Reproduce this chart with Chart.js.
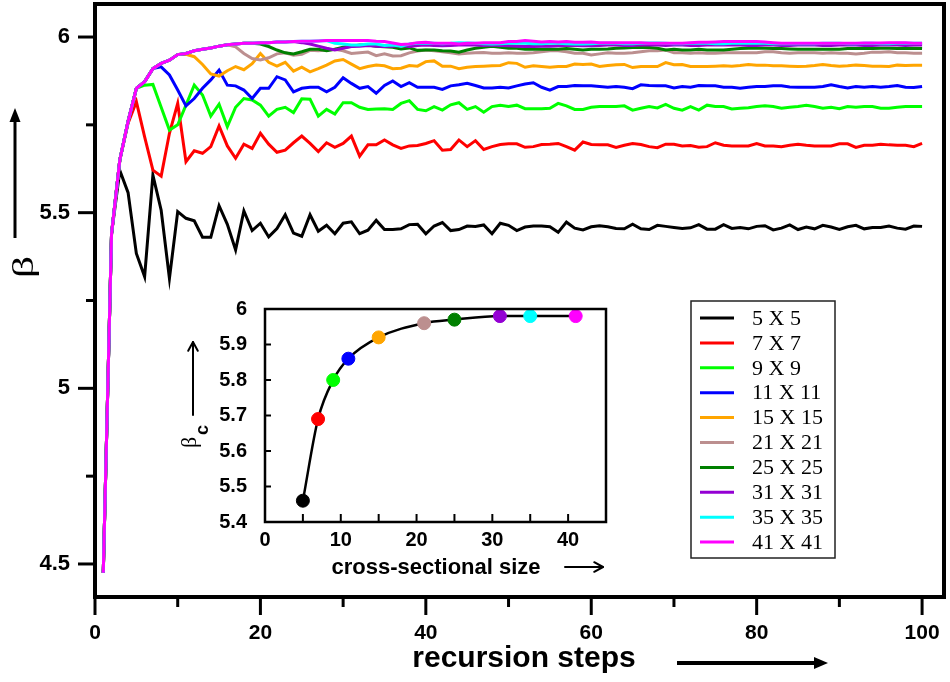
<!DOCTYPE html>
<html>
<head>
<meta charset="utf-8">
<script src="https://cdn.jsdelivr.net/npm/chart.js@4.4.1/dist/chart.umd.min.js"></script>
<style>
  html, body { margin: 0; padding: 0; background: #fff; }
  #wrap { position: relative; width: 950px; height: 682px; }
  #main { position: absolute; left: 0; top: 0; }
  #inset { position: absolute; left: 160px; top: 290px; }
</style>
</head>
<body>
<div id="wrap">
  <canvas id="main" width="950" height="682"></canvas>
  <canvas id="inset" width="460" height="300"></canvas>
</div>
<script>
// ---------------- DATA ----------------
const steps = [1,2,3,4,5,6,7,8,9,10,11,12,13,14,15,16,17,18,19,20,21,22,23,24,25,26,27,28,29,30,31,32,33,34,35,36,37,38,39,40,41,42,43,44,45,46,47,48,49,50,51,52,53,54,55,56,57,58,59,60,61,62,63,64,65,66,67,68,69,70,71,72,73,74,75,76,77,78,79,80,81,82,83,84,85,86,87,88,89,90,91,92,93,94,95,96,97,98,99,100];

const seriesLabels = ['5 X 5','7 X 7','9 X 9','11 X 11','15 X 15','21 X 21','25 X 25','31 X 31','35 X 35','41 X 41'];
const seriesColors = ['#000000','#ff0000','#00ff00','#0000ff','#ffa500','#bc8f8f','#008000','#9400d3','#00ffff','#ff00ff'];

const beta5 = [4.475,5.44,5.62,5.557,5.384,5.318,5.607,5.507,5.313,5.503,
5.484,5.477,5.43,5.43,5.52,5.467,5.394,5.505,5.449,5.470,
5.431,5.455,5.494,5.442,5.433,5.494,5.447,5.464,5.440,5.470,
5.474,5.440,5.450,5.478,5.452,5.452,5.454,5.466,5.467,5.440,
5.462,5.472,5.449,5.452,5.462,5.461,5.465,5.440,5.470,5.464,
5.449,5.459,5.462,5.462,5.460,5.444,5.473,5.456,5.451,5.460,
5.463,5.460,5.455,5.454,5.467,5.454,5.452,5.464,5.461,5.458,
5.455,5.457,5.466,5.453,5.453,5.466,5.455,5.458,5.454,5.461,
5.463,5.451,5.456,5.465,5.452,5.459,5.454,5.464,5.459,5.452,
5.460,5.464,5.454,5.458,5.458,5.462,5.456,5.453,5.462,5.461];

const beta7 = [4.475,5.44,5.65,5.755,5.816,5.716,5.621,5.604,5.726,5.811,
5.645,5.676,5.669,5.688,5.747,5.690,5.655,5.695,5.683,5.726,
5.695,5.672,5.678,5.699,5.718,5.697,5.674,5.699,5.686,5.697,
5.718,5.661,5.693,5.693,5.707,5.693,5.683,5.690,5.691,5.697,
5.705,5.678,5.680,5.707,5.688,5.705,5.680,5.688,5.694,5.696,
5.696,5.686,5.688,5.694,5.695,5.697,5.688,5.678,5.701,5.694,
5.693,5.693,5.686,5.692,5.697,5.694,5.688,5.685,5.695,5.695,
5.690,5.691,5.686,5.688,5.699,5.692,5.690,5.690,5.690,5.697,
5.690,5.690,5.688,5.692,5.695,5.692,5.690,5.690,5.690,5.696,
5.696,5.686,5.692,5.692,5.695,5.693,5.692,5.692,5.688,5.697];

const beta9 = [4.475,5.44,5.65,5.76,5.854,5.863,5.865,5.80,5.735,5.75,
5.806,5.863,5.835,5.775,5.809,5.745,5.800,5.825,5.821,5.806,
5.775,5.794,5.800,5.785,5.824,5.823,5.775,5.794,5.781,5.813,
5.813,5.800,5.794,5.795,5.796,5.794,5.811,5.819,5.794,5.790,
5.802,5.792,5.807,5.813,5.794,5.802,5.786,5.802,5.806,5.802,
5.806,5.796,5.796,5.796,5.797,5.811,5.804,5.794,5.794,5.800,
5.802,5.802,5.802,5.804,5.792,5.797,5.802,5.798,5.808,5.797,
5.792,5.802,5.792,5.806,5.802,5.802,5.795,5.797,5.799,5.802,
5.804,5.802,5.797,5.800,5.802,5.806,5.802,5.797,5.800,5.796,
5.802,5.800,5.802,5.802,5.797,5.797,5.800,5.802,5.802,5.802];

const beta11 = [4.475,5.44,5.65,5.76,5.854,5.873,5.91,5.915,5.892,5.849,
5.804,5.825,5.854,5.878,5.906,5.863,5.861,5.849,5.825,5.854,
5.854,5.887,5.878,5.844,5.854,5.857,5.857,5.844,5.857,5.884,
5.868,5.854,5.859,5.840,5.862,5.875,5.859,5.870,5.857,5.857,
5.857,5.851,5.861,5.864,5.868,5.862,5.855,5.855,5.857,5.855,
5.861,5.866,5.870,5.857,5.849,5.859,5.859,5.862,5.861,5.861,
5.859,5.857,5.859,5.857,5.853,5.864,5.862,5.861,5.861,5.855,
5.859,5.857,5.862,5.861,5.861,5.857,5.857,5.854,5.857,5.859,
5.859,5.861,5.861,5.858,5.857,5.857,5.857,5.859,5.864,5.859,
5.855,5.859,5.857,5.859,5.857,5.859,5.862,5.857,5.856,5.859];

const beta15 = [4.475,5.44,5.65,5.76,5.854,5.873,5.91,5.925,5.934,5.95,
5.951,5.944,5.922,5.895,5.889,5.904,5.916,5.907,5.924,5.953,
5.928,5.917,5.928,5.903,5.914,5.901,5.910,5.920,5.932,5.936,
5.923,5.910,5.916,5.920,5.918,5.910,5.911,5.919,5.917,5.930,
5.932,5.917,5.917,5.910,5.914,5.916,5.917,5.918,5.919,5.927,
5.925,5.914,5.918,5.916,5.914,5.916,5.916,5.923,5.922,5.923,
5.916,5.919,5.921,5.922,5.913,5.916,5.916,5.916,5.927,5.921,
5.922,5.916,5.916,5.916,5.917,5.918,5.917,5.919,5.922,5.920,
5.920,5.918,5.918,5.917,5.916,5.917,5.919,5.922,5.919,5.917,
5.918,5.920,5.919,5.917,5.917,5.916,5.920,5.919,5.920,5.920];

const beta21 = [4.475,5.44,5.65,5.76,5.854,5.873,5.91,5.925,5.934,5.95,
5.953,5.961,5.965,5.969,5.974,5.978,5.972,5.953,5.939,5.935,
5.941,5.952,5.955,5.948,5.951,5.962,5.961,5.963,5.965,5.961,
5.953,5.955,5.957,5.947,5.952,5.946,5.947,5.955,5.960,5.963,
5.961,5.958,5.955,5.952,5.954,5.955,5.956,5.954,5.954,5.955,
5.954,5.954,5.955,5.958,5.961,5.961,5.958,5.954,5.954,5.949,
5.952,5.955,5.954,5.954,5.955,5.958,5.961,5.961,5.963,5.955,
5.955,5.954,5.955,5.954,5.954,5.955,5.955,5.955,5.955,5.955,
5.958,5.958,5.955,5.954,5.955,5.955,5.955,5.954,5.955,5.954,
5.954,5.952,5.954,5.957,5.957,5.958,5.955,5.955,5.954,5.954];

const beta25 = [4.475,5.44,5.65,5.76,5.854,5.873,5.91,5.925,5.934,5.95,
5.953,5.961,5.965,5.969,5.974,5.978,5.980,5.982,5.982,5.980,
5.973,5.963,5.955,5.952,5.958,5.965,5.965,5.961,5.965,5.971,
5.974,5.977,5.977,5.974,5.972,5.971,5.966,5.969,5.962,5.963,
5.963,5.961,5.960,5.957,5.963,5.968,5.971,5.974,5.971,5.968,
5.968,5.965,5.965,5.965,5.965,5.965,5.967,5.965,5.963,5.965,
5.965,5.966,5.968,5.969,5.970,5.970,5.970,5.968,5.963,5.965,
5.963,5.963,5.965,5.963,5.963,5.963,5.965,5.967,5.968,5.968,
5.968,5.967,5.967,5.966,5.965,5.965,5.965,5.965,5.965,5.965,
5.967,5.967,5.967,5.967,5.968,5.968,5.967,5.967,5.968,5.967];

const beta31 = [4.475,5.44,5.65,5.76,5.854,5.873,5.91,5.925,5.934,5.95,
5.953,5.961,5.965,5.969,5.974,5.978,5.980,5.982,5.982,5.984,
5.984,5.986,5.986,5.987,5.984,5.980,5.974,5.968,5.963,5.968,
5.973,5.974,5.976,5.974,5.973,5.974,5.976,5.973,5.976,5.977,
5.976,5.975,5.976,5.977,5.978,5.977,5.976,5.977,5.976,5.975,
5.974,5.973,5.973,5.974,5.974,5.975,5.976,5.976,5.975,5.975,
5.976,5.977,5.977,5.976,5.976,5.977,5.978,5.977,5.976,5.977,
5.977,5.976,5.976,5.977,5.977,5.978,5.977,5.977,5.976,5.976,
5.977,5.977,5.976,5.976,5.977,5.977,5.977,5.976,5.976,5.977,
5.977,5.977,5.976,5.976,5.977,5.977,5.977,5.976,5.977,5.977];

const beta35 = [4.475,5.44,5.65,5.76,5.854,5.873,5.91,5.925,5.934,5.95,
5.953,5.961,5.965,5.969,5.974,5.978,5.980,5.982,5.982,5.984,
5.984,5.986,5.986,5.987,5.988,5.988,5.989,5.990,5.982,5.980,
5.977,5.977,5.980,5.980,5.976,5.977,5.974,5.980,5.982,5.983,
5.982,5.981,5.982,5.984,5.983,5.982,5.981,5.980,5.981,5.982,
5.983,5.982,5.981,5.981,5.982,5.982,5.981,5.980,5.980,5.981,
5.982,5.982,5.982,5.981,5.981,5.982,5.983,5.983,5.982,5.981,
5.981,5.982,5.982,5.982,5.981,5.981,5.982,5.982,5.982,5.982,
5.982,5.981,5.981,5.981,5.981,5.981,5.981,5.982,5.982,5.982,
5.981,5.981,5.982,5.982,5.981,5.981,5.982,5.982,5.982,5.982];

const beta41 = [4.475,5.44,5.65,5.76,5.854,5.873,5.91,5.925,5.934,5.95,
5.953,5.961,5.965,5.969,5.974,5.978,5.980,5.982,5.982,5.984,
5.984,5.986,5.986,5.987,5.988,5.988,5.989,5.990,5.990,5.990,
5.990,5.990,5.990,5.988,5.987,5.983,5.979,5.980,5.984,5.985,
5.982,5.982,5.982,5.980,5.982,5.982,5.984,5.984,5.984,5.987,
5.987,5.990,5.988,5.986,5.987,5.986,5.987,5.985,5.985,5.986,
5.984,5.984,5.984,5.984,5.984,5.984,5.982,5.982,5.982,5.982,
5.982,5.984,5.985,5.985,5.986,5.987,5.987,5.987,5.987,5.987,
5.986,5.984,5.982,5.982,5.982,5.982,5.982,5.982,5.982,5.982,
5.982,5.982,5.983,5.983,5.983,5.984,5.984,5.984,5.982,5.982];

const allSeries = [beta5, beta7, beta9, beta11, beta15, beta21, beta25, beta31, beta35, beta41];

// main-axis ticks
const xMajorTicks = [0, 20, 40, 60, 80, 100];
const xMinorTicks = [10, 30, 50, 70, 90];
const yMajorTicks = [4.5, 5, 5.5, 6];
const yMinorTicks = [4.75, 5.25, 5.75];

// inset data
const insetSizes = [5, 7, 9, 11, 15, 21, 25, 31, 35, 41];
const insetBetaC = [5.46, 5.69, 5.80, 5.86, 5.92, 5.96, 5.97, 5.98, 5.98, 5.98];
const insetXLabels = [0, 10, 20, 30, 40];
const insetXMarks = [5, 10, 15, 20, 25, 30, 35, 40];
const insetYLabels = [5.4, 5.5, 5.6, 5.7, 5.8, 5.9, 6];
const insetYMarks = [5.5, 5.6, 5.7, 5.8, 5.9];

// ---------------- helpers ----------------
const SANS = '"Liberation Sans", Arial, Helvetica, sans-serif';
const SERIF = '"Liberation Serif", "Times New Roman", serif';
const fmt = v => String(+Number(v).toFixed(2));

function seg(ctx, x1, y1, x2, y2) { ctx.beginPath(); ctx.moveTo(x1, y1); ctx.lineTo(x2, y2); ctx.stroke(); }

function filledArrow(ctx, x1, y1, x2, y2, w, headLen, headW) {
  const ang = Math.atan2(y2 - y1, x2 - x1);
  const bx = x2 - headLen * Math.cos(ang), by = y2 - headLen * Math.sin(ang);
  ctx.lineWidth = w; ctx.lineCap = 'butt';
  seg(ctx, x1, y1, bx, by);
  ctx.beginPath();
  ctx.moveTo(x2, y2);
  ctx.lineTo(bx + headW / 2 * Math.sin(ang), by - headW / 2 * Math.cos(ang));
  ctx.lineTo(bx - headW / 2 * Math.sin(ang), by + headW / 2 * Math.cos(ang));
  ctx.closePath(); ctx.fill();
}
function openArrow(ctx, x1, y1, x2, y2, w, headLen) {
  const ang = Math.atan2(y2 - y1, x2 - x1);
  ctx.lineWidth = w; ctx.lineCap = 'round'; ctx.lineJoin = 'round';
  seg(ctx, x1, y1, x2, y2);
  ctx.beginPath();
  ctx.moveTo(x2 - headLen * Math.cos(ang - 0.5), y2 - headLen * Math.sin(ang - 0.5));
  ctx.lineTo(x2, y2);
  ctx.lineTo(x2 - headLen * Math.cos(ang + 0.5), y2 - headLen * Math.sin(ang + 0.5));
  ctx.stroke();
}
function noPad(s) { s.paddingTop = 0; s.paddingBottom = 0; s.paddingLeft = 0; s.paddingRight = 0; }

// ---------------- main chart ----------------
const mainDecor = {
  id: 'mainDecor',
  afterDraw(chart) {
    const { ctx, chartArea: a, scales: { x, y } } = chart;
    ctx.save();
    ctx.strokeStyle = '#000'; ctx.fillStyle = '#000';
    // frame
    ctx.lineWidth = 4;
    ctx.strokeRect(a.left, a.top, a.right - a.left, a.bottom - a.top);
    // ticks
    ctx.lineWidth = 3; ctx.lineCap = 'butt';
    xMajorTicks.forEach(v => { const p = x.getPixelForValue(v); seg(ctx, p, a.bottom, p, a.bottom + 18); });
    xMinorTicks.forEach(v => { const p = x.getPixelForValue(v); seg(ctx, p, a.bottom, p, a.bottom + 10); });
    yMajorTicks.forEach(v => { const p = y.getPixelForValue(v); seg(ctx, a.left - 17, p, a.left, p); });
    yMinorTicks.forEach(v => { const p = y.getPixelForValue(v); seg(ctx, a.left - 9, p, a.left, p); });

    // x title + arrow
    ctx.font = 'bold 30px ' + SANS;
    ctx.textAlign = 'center'; ctx.textBaseline = 'alphabetic';
    ctx.fillText('recursion steps', 524, 667);
    filledArrow(ctx, 677, 663, 828, 663, 4, 14, 12);

    // y title (rotated beta) + arrow
    filledArrow(ctx, 15, 238, 15, 108, 3, 14, 11);
    ctx.save();
    ctx.translate(33, 278);
    ctx.rotate(-Math.PI / 2);
    ctx.scale(1.45, 1);
    ctx.font = '30px ' + SERIF;
    ctx.textAlign = 'left'; ctx.textBaseline = 'alphabetic';
    ctx.fillText('\u03B2', 0, 0);
    ctx.restore();

    // legend box
    const lx = 691, ly = 301, lw = 144, lh = 257;
    ctx.lineWidth = 1.5; ctx.strokeStyle = '#222';
    ctx.strokeRect(lx, ly, lw, lh);
    ctx.font = '22px ' + SERIF;
    ctx.textAlign = 'left'; ctx.textBaseline = 'middle';
    seriesLabels.forEach((lab, i) => {
      const cy = 318 + i * 24.9;
      ctx.strokeStyle = seriesColors[i]; ctx.lineWidth = 3;
      seg(ctx, 700, cy, 734, cy);
      ctx.fillStyle = '#000';
      ctx.fillText(lab, 752, cy + 1);
    });
    ctx.restore();
  }
};

new Chart(document.getElementById('main'), {
  type: 'line',
  data: {
    datasets: allSeries.map((vals, i) => ({
      label: seriesLabels[i],
      data: vals.map((v, k) => ({ x: steps[k], y: v })),
      borderColor: seriesColors[i],
      backgroundColor: seriesColors[i],
      borderWidth: 3,
      pointRadius: 0,
      tension: 0,
      fill: false,
      order: allSeries.length - i
    }))
  },
  options: {
    responsive: false,
    animation: false,
    events: [],
    layout: { padding: { top: 4, right: 6, left: 0, bottom: 0 } },
    plugins: { legend: { display: false }, tooltip: { enabled: false } },
    scales: {
      x: {
        type: 'linear', min: 0, max: 102.65,
        afterBuildTicks: s => { s.ticks = xMajorTicks.map(v => ({ value: v })); },
        afterFit: s => { s.height = 85; noPad(s); },
        grid: { display: false, drawTicks: false },
        border: { display: false },
        ticks: { color: '#000', padding: 24, maxRotation: 0, autoSkip: false,
                 font: { family: SANS, size: 21, weight: 'bold' }, callback: v => fmt(v) }
      },
      y: {
        type: 'linear', min: 4.406, max: 6.094,
        afterBuildTicks: s => { s.ticks = yMajorTicks.map(v => ({ value: v })); },
        afterFit: s => { s.width = 95; noPad(s); },
        grid: { display: false, drawTicks: false },
        border: { display: false },
        ticks: { color: '#000', padding: 25, autoSkip: false,
                 font: { family: SANS, size: 22, weight: 'bold' }, callback: v => fmt(v) }
      }
    }
  },
  plugins: [mainDecor]
});

// ---------------- inset chart ----------------
const insetDecor = {
  id: 'insetDecor',
  afterDraw(chart) {
    const { ctx, chartArea: a, scales: { x, y } } = chart;
    ctx.save();
    ctx.strokeStyle = '#000'; ctx.fillStyle = '#000';
    ctx.lineWidth = 2.5;
    ctx.strokeRect(a.left, a.top, a.right - a.left, a.bottom - a.top);
    ctx.lineWidth = 2;
    insetXMarks.forEach(v => { const p = x.getPixelForValue(v); seg(ctx, p, a.bottom, p, a.bottom - 8); });
    insetYMarks.forEach(v => { const p = y.getPixelForValue(v); seg(ctx, a.left, p, a.left + 6, p); });

    // x title
    ctx.font = 'bold 22px ' + SANS;
    ctx.textAlign = 'center'; ctx.textBaseline = 'alphabetic';
    ctx.fillText('cross-sectional size', 276, 284);
    openArrow(ctx, 405, 277, 443, 277, 2, 10);

    // y title: beta_c rotated, and arrow
    openArrow(ctx, 33, 125, 33, 52, 2, 10);
    ctx.save();
    ctx.translate(36, 158);
    ctx.rotate(-Math.PI / 2);
    ctx.font = '22px ' + SERIF;
    ctx.textAlign = 'left'; ctx.textBaseline = 'alphabetic';
    ctx.fillText('\u03B2', 0, 0);
    ctx.font = 'bold 18px ' + SANS;
    ctx.fillText('c', 13, 12);
    ctx.restore();
    ctx.restore();
  }
};

new Chart(document.getElementById('inset'), {
  type: 'line',
  data: {
    datasets: [{
      data: insetSizes.map((s, i) => ({ x: s, y: insetBetaC[i] })),
      borderColor: '#000',
      borderWidth: 2.5,
      tension: 0.35,
      cubicInterpolationMode: 'monotone',
      pointRadius: 6.5,
      pointBackgroundColor: seriesColors,
      pointBorderColor: seriesColors,
      pointBorderWidth: 1,
      fill: false,
      clip: false
    }]
  },
  options: {
    responsive: false,
    animation: false,
    events: [],
    layout: { padding: { top: 19, right: 14, left: 0, bottom: 0 } },
    plugins: { legend: { display: false }, tooltip: { enabled: false } },
    scales: {
      x: {
        type: 'linear', min: 0, max: 45,
        afterBuildTicks: s => { s.ticks = insetXLabels.map(v => ({ value: v })); },
        afterFit: s => { s.height = 68; noPad(s); },
        grid: { display: false, drawTicks: false },
        border: { display: false },
        ticks: { color: '#000', padding: 6, maxRotation: 0, autoSkip: false,
                 font: { family: SANS, size: 20, weight: 'bold' }, callback: v => fmt(v) }
      },
      y: {
        type: 'linear', min: 5.4, max: 6,
        afterBuildTicks: s => { s.ticks = insetYLabels.map(v => ({ value: v })); },
        afterFit: s => { s.width = 105; noPad(s); },
        grid: { display: false, drawTicks: false },
        border: { display: false },
        ticks: { color: '#000', padding: 18, autoSkip: false,
                 font: { family: SANS, size: 20, weight: 'bold' }, callback: v => fmt(v) }
      }
    }
  },
  plugins: [insetDecor]
});
</script>
</body>
</html>
